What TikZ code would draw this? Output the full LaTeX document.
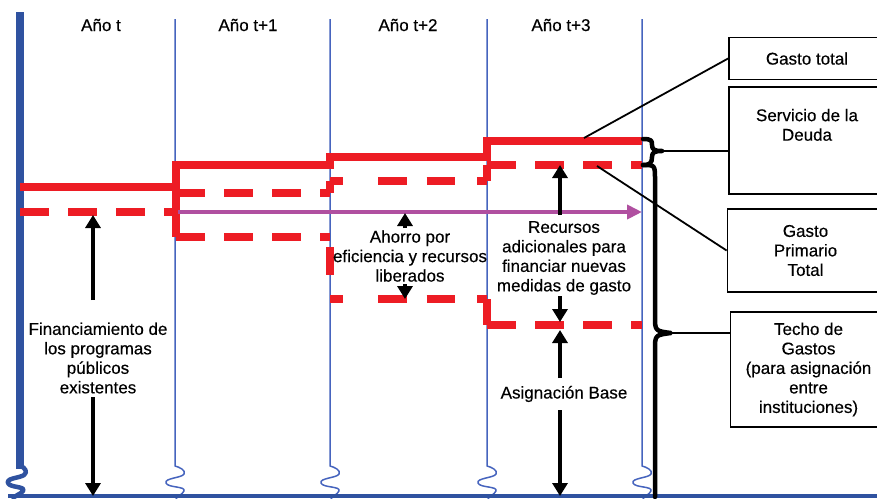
\documentclass[tikz,border=0pt]{standalone}
\usepackage{fontspec}
\setmainfont{Liberation Sans}[FakeBold=0.4]
\newfontfamily\lab{Liberation Sans}[FakeBold=0.35]
\usetikzlibrary{arrows.meta}
\definecolor{axblue}{RGB}{47,82,160}
\definecolor{lnb}{RGB}{70,100,190}
\definecolor{rd}{RGB}{237,28,36}
\definecolor{pur}{RGB}{176,80,160}
\begin{document}
\begin{tikzpicture}[x=1pt,y=-1pt,
  lbl/.style={font=\lab\fontsize{17}{19.5}\selectfont, align=center, inner sep=0pt, text=black},
  box/.style={draw=black, line width=1.8pt, minimum width=156pt, inner sep=0pt, align=center, font=\lab\fontsize{17}{19.5}\selectfont},
  rsolid/.style={draw=rd, line width=7.5pt},
  rdash/.style={draw=rd, line width=7.5pt, dash pattern=on 28.5pt off 19.5pt},
  rdashb/.style={draw=rd, line width=7.5pt, dash pattern=on 13pt off 35pt on 29pt off 19.5pt on 28.5pt off 22pt on 28.5pt off 19.5pt},
  vline/.style={draw=lnb, line width=1.5pt},
  blk/.style={draw=black, line width=3.6pt, -{Triangle[length=13pt,width=15pt]}},
  lead/.style={draw=black, line width=1.8pt},
  bracestroke/.style={draw=black, line width=4.5pt, line cap=round, line join=round}
]
\useasboundingbox (0,0) rectangle (877,498);
\clip (0,0) rectangle (877,498);
\fill[white] (0,0) rectangle (877,498);

% thin year separators with break marks
\foreach \x in {175,330,487,642} {
  \draw[vline, line join=round] (\x,19) -- (\x,466) .. controls (\x+4,467) and (\x+11,470) .. (\x+9,474)
     .. controls (\x+7,478) and (\x-11,478) .. (\x-9,483)
     .. controls (\x-7,488) and (\x+11,486) .. (\x+9,491)
     .. controls (\x+7,495) and (\x+2,496) .. (\x+1,499);
}
% main axes
\draw[axblue, line width=7.5pt] (20,12) -- (20,469);
\draw[axblue, line width=4.5pt, line join=round] (21,466) .. controls (25,468) and (28,472) .. (24,475)
     .. controls (20,478) and (6,478) .. (8,483)
     .. controls (10,488) and (26,486) .. (23,491)
     .. controls (21,494) and (14,496) .. (12,499);
\draw[axblue, line width=4pt] (8,496) -- (877,496);

% year labels
\node[lbl] (y0) at (101,25) {Año t};
\node[lbl] (y1) at (248,25) {Año t+1};
\node[lbl] (y2) at (408,25) {Año t+2};
\node[lbl] (y3) at (561,25) {Año t+3};

% red lines: total expenditure (solid)
\draw[rsolid] (20,187) -- (176,187) -- (176,165) -- (330,165) -- (330,157) -- (487,157) -- (487,141) -- (642,141);
\draw[rsolid] (176,165) -- (176,237);
% primary expenditure (dashed)
\draw[rdash] (20,212) -- (176,212);
\draw[rdash] (176,193) -- (330,193);
\draw[rsolid] (330,193) -- (330,181);
\draw[rdashb] (330,181) -- (487,181);
\draw[rsolid] (487,181) -- (487,165);
\draw[rdash] (487,165) -- (642,165);
% spending ceiling (dashed)
\draw[rdash] (176,237) -- (330,237);
\draw[draw=rd, line width=7.5pt, dash pattern=on 0pt off 10pt on 28pt off 40pt] (330,237) -- (330,299);
\draw[rdashb] (330,299) -- (487,299);
\draw[rsolid] (487,299) -- (487,325);
\draw[rdash] (487,325) -- (642,325);

% purple arrow
\draw[pur, line width=4pt, -{Triangle[length=15pt,width=14pt]}] (178,212) -- (642,212);

% text labels
\node[lbl] (fin) at (98,358) {Financiamiento de\\los programas\\públicos\\existentes};
\node[lbl] (aho) at (410,256) {Ahorro por\\eficiencia y recursos\\liberados};
\node[lbl] (rec) at (564,258) {Recursos\\adicionales para\\financiar nuevas\\medidas de gasto};
\node[lbl] (asi) at (564,394) {Asignación Base};

% black arrows
\coordinate (f1) at (93,300); \coordinate (f1t) at (93,215);
\coordinate (f2) at (93,397); \coordinate (f2t) at (93,496);
\draw[blk] (f1) -- (f1t);
\draw[blk] (f2) -- (f2t);
\coordinate (a1) at (405,228); \coordinate (a1t) at (405,213);
\coordinate (a2) at (405,284); \coordinate (a2t) at (405,299);
\draw[blk] (a1) -- (a1t);
\draw[blk] (a2) -- (a2t);
\coordinate (r1) at (560,215); \coordinate (r1t) at (560,165);
\coordinate (r2) at (560,296); \coordinate (r2t) at (560,322);
\draw[blk] (r1) -- (r1t);
\draw[blk] (r2) -- (r2t);
\coordinate (b1) at (560,378); \coordinate (b1t) at (560,330);
\coordinate (b2) at (560,410); \coordinate (b2t) at (560,496);
\draw[blk] (b1) -- (b1t);
\draw[blk] (b2) -- (b2t);

% boxes
\node[box, minimum height=42pt] (gt) at (807,58.5) {Gasto total};
\node[box, minimum height=107pt] (sd) at (807,140.5) {Servicio de la\\Deuda\\[12pt]};
\node[box, minimum height=83pt] (gp) at (805.5,250.5) {Gasto\\Primario\\Total};
\node[box, minimum height=115pt] (tg) at (808.5,369.5) {Techo de\\Gastos\\(para asignación\\entre\\instituciones)};

% braces
\coordinate (bsd) at (662,151);
\draw[bracestroke] (643,139) .. controls (652,139) and (652,141) .. (652,145) .. controls (652,150) and (655,151) .. (bsd)
  .. controls (655,151) and (652,152) .. (652,157) .. controls (652,163) and (650,165) .. (643,165);
\coordinate (btg) at (671,333);
\draw[bracestroke] (643,165) .. controls (655,165) .. (655,180) -- (655,316) .. controls (655,331) .. (btg)
  .. controls (655,335) .. (655,350) -- (655,497);

% leaders
\coordinate (gtp) at (584,138);
\coordinate (gpp) at (597,166);
\draw[lead] (gtp) -- (gt.west);
\draw[lead] (gpp) -- (gp.west);
\draw[lead] (bsd) -- (bsd -| sd.west);
\draw[lead] (btg) -- (btg -| tg.west);
\end{tikzpicture}
\end{document}
